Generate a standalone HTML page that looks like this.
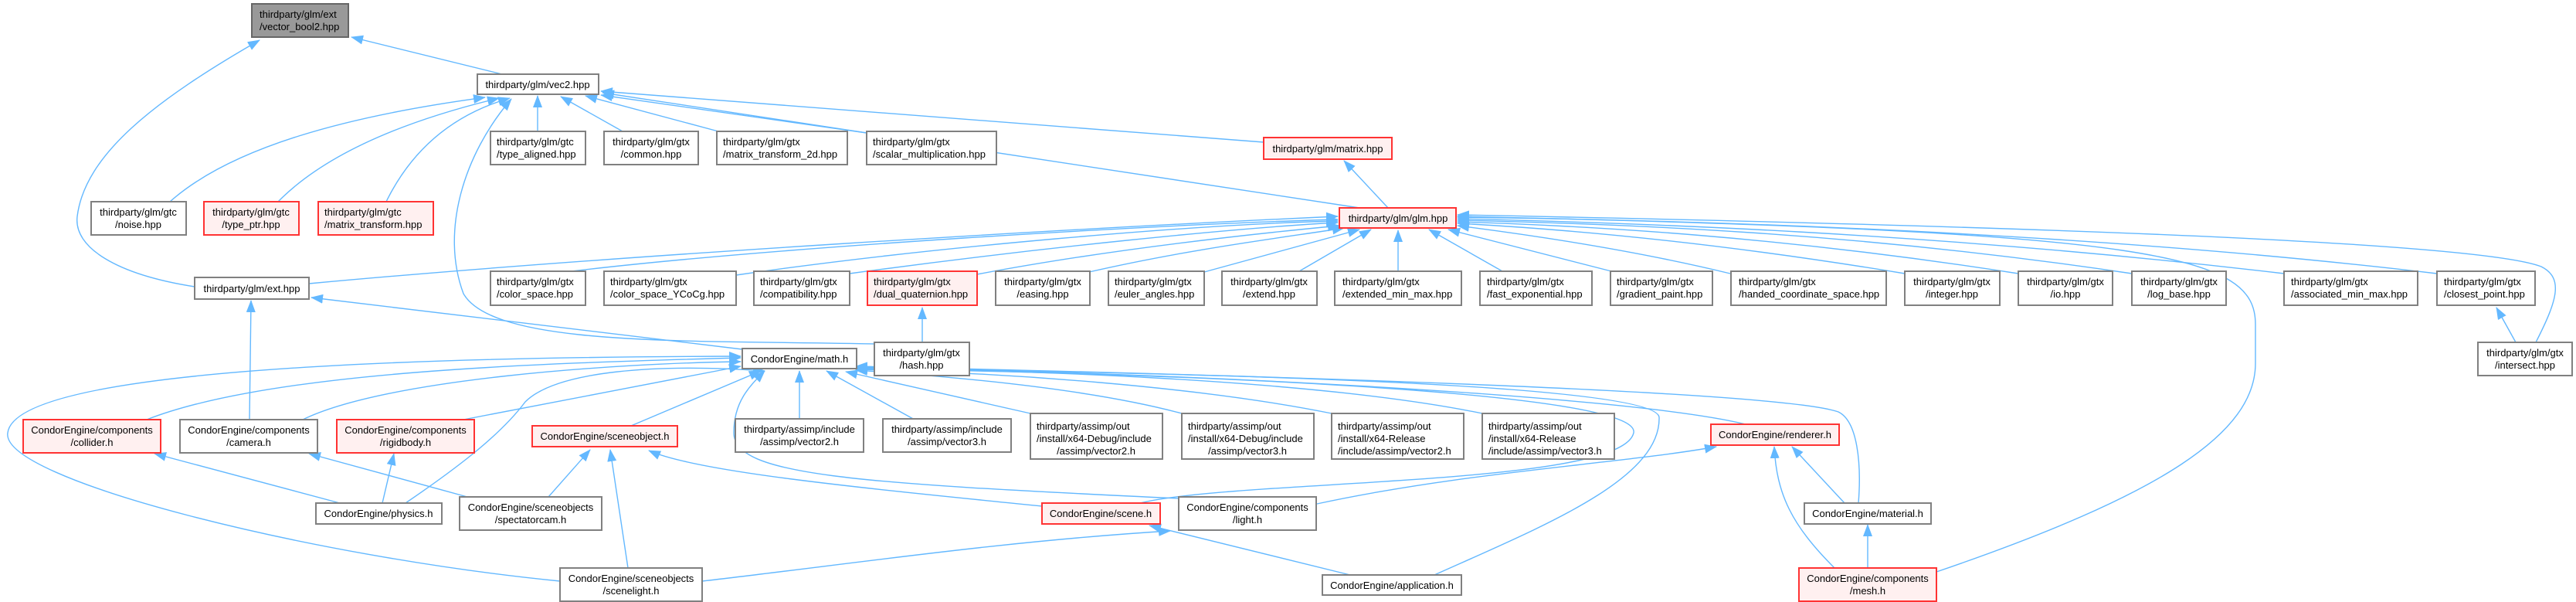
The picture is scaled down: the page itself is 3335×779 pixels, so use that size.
<!DOCTYPE html>
<html><head><meta charset="utf-8"><style>
html,body{margin:0;padding:0;background:#fff;}
svg{display:block;}
text{font-family:"Liberation Sans",Arial,sans-serif;font-size:13px;fill:#000;}
.e{fill:none;stroke:#63b8ff;stroke-width:1.4;}
.n{fill:#fff;stroke:#808080;stroke-width:2;}
.r{fill:#fff0f0;stroke:#ff3333;stroke-width:2;}
.g{fill:#999;stroke:#666;stroke-width:2;}
</style></head><body>
<svg width="3335" height="779" viewBox="0 0 3335 779" xmlns="http://www.w3.org/2000/svg">
<defs>
<marker id="a" markerUnits="userSpaceOnUse" markerWidth="16" markerHeight="12" refX="15" refY="6" orient="auto">
<path d="M0,0 L16,6 L0,12 Z" fill="#63b8ff"/>
</marker>
</defs>
<g class="e" marker-end="url(#a)">
<path d="M650,96 L455,48"/>
<path d="M252,371 C150,355 95,320 100,280 C110,200 200,130 336,52"/>
<path d="M220,261 C300,190 450,150 628,126"/>
<path d="M360,261 C430,190 550,150 646,127"/>
<path d="M500,261 C530,200 580,150 660,127"/>
<path d="M696,170 L696,124"/>
<path d="M806,170 L726,125"/>
<path d="M930,170 L758,124"/>
<path d="M1122,172 L778,123"/>
<path d="M1636,184 L778,118"/>
<path d="M1760,269 L780,120"/>
<path d="M1797,269 L1740,208"/>
<path d="M1133,445 C900,440 640,450 600,380 C570,300 600,200 662,128"/>
<path d="M400,367 C800,330 1400,295 1732,280"/>
<path d="M961,452 L403,385"/>
<path d="M323,543 L325,389"/>
<path d="M740,351 C1000,320 1500,290 1732,284"/>
<path d="M953,356 C1200,320 1550,290 1732,286"/>
<path d="M1100,354 C1350,320 1600,295 1732,288"/>
<path d="M1265,355 C1450,320 1650,300 1734,292"/>
<path d="M1410,352 C1550,320 1680,305 1740,295"/>
<path d="M1559,352 L1760,297"/>
<path d="M1682,351 L1775,297"/>
<path d="M1810,351 L1810,298"/>
<path d="M1945,351 L1850,297"/>
<path d="M2090,352 L1875,297"/>
<path d="M2240,354 C2100,320 1950,300 1887,292"/>
<path d="M2466,354 C2200,310 2000,295 1887,289"/>
<path d="M2613,354 C2300,305 2050,292 1887,287"/>
<path d="M2760,354 C2400,300 2100,290 1887,285"/>
<path d="M2957,354 C2500,300 2100,288 1887,283"/>
<path d="M3155,354 C2700,300 2200,285 1887,281"/>
<path d="M3257,443 L3232,398"/>
<path d="M3283,443 C3310,390 3320,360 3290,345 C3200,310 2500,290 1887,278"/>
<path d="M2507,740 C2800,640 2920,560 2920,470 L2920,420 C2920,330 2800,300 1887,280"/>
<path d="M1194,443 L1194,398"/>
<path d="M190,543 C350,480 700,470 959,463"/>
<path d="M392,543 C500,490 800,470 959,468"/>
<path d="M600,543 L959,474"/>
<path d="M817,551 L985,480"/>
<path d="M725,752 C400,720 0,620 10,560 C20,480 500,462 959,461"/>
<path d="M525,651 C600,600 650,560 680,520 C720,480 850,470 990,480"/>
<path d="M1035,543 L1035,480"/>
<path d="M1184,543 L1070,480"/>
<path d="M1334,535 L1095,481"/>
<path d="M1530,535 C1400,500 1200,485 1108,479"/>
<path d="M1724,535 C1550,500 1300,482 1108,478"/>
<path d="M1919,535 C1700,490 1300,478 1108,477"/>
<path d="M2260,549 C2100,510 1500,482 1108,475"/>
<path d="M2406,651 C2410,600 2405,545 2380,533 C2300,505 1600,485 1108,474"/>
<path d="M1857,744 C2000,680 2150,620 2148,540 C2145,495 1500,482 1108,476"/>
<path d="M1476,651 C1600,620 2100,630 2115,560 C2125,510 1600,485 1108,477"/>
<path d="M1526,645 C1100,625 950,615 950,560 C950,520 970,500 990,480"/>
<path d="M1349,655 C1100,630 900,610 840,583"/>
<path d="M710,643 L764,582"/>
<path d="M813,735 L790,582"/>
<path d="M440,651 L200,587"/>
<path d="M495,651 L510,587"/>
<path d="M605,643 L400,587"/>
<path d="M1748,744 L1488,680"/>
<path d="M909,752 C1100,730 1300,700 1515,687"/>
<path d="M1705,652 C1900,610 2100,600 2222,578"/>
<path d="M2388,651 L2320,578"/>
<path d="M2375,735 C2320,680 2300,640 2297,578"/>
<path d="M2418,735 L2418,679"/>
</g>
<g>
<rect class="g" x="326" y="5" width="125" height="43"/><text x="336" y="23">thirdparty/glm/ext</text><text x="336" y="39">/vector_bool2.hpp</text>
<rect class="n" x="618" y="96" width="157" height="26"/><text x="696" y="114" text-anchor="middle">thirdparty/glm/vec2.hpp</text>
<rect class="n" x="635" y="170" width="123" height="43"/><text x="643" y="188">thirdparty/glm/gtc</text><text x="643" y="204">/type_aligned.hpp</text>
<rect class="n" x="782" y="170" width="122" height="43"/><text x="843" y="188" text-anchor="middle">thirdparty/glm/gtx</text><text x="843" y="204" text-anchor="middle">/common.hpp</text>
<rect class="n" x="928" y="170" width="169" height="43"/><text x="936" y="188">thirdparty/glm/gtx</text><text x="936" y="204">/matrix_transform_2d.hpp</text>
<rect class="n" x="1122" y="170" width="168" height="43"/><text x="1130" y="188">thirdparty/glm/gtx</text><text x="1130" y="204">/scalar_multiplication.hpp</text>
<rect class="r" x="1636" y="178" width="166" height="28"/><text x="1719" y="197" text-anchor="middle">thirdparty/glm/matrix.hpp</text>
<rect class="r" x="1734" y="269" width="151" height="26"/><text x="1810" y="287" text-anchor="middle">thirdparty/glm/glm.hpp</text>
<rect class="n" x="118" y="261" width="123" height="43"/><text x="179" y="279" text-anchor="middle">thirdparty/glm/gtc</text><text x="179" y="295" text-anchor="middle">/noise.hpp</text>
<rect class="r" x="264" y="261" width="123" height="43"/><text x="325" y="279" text-anchor="middle">thirdparty/glm/gtc</text><text x="325" y="295" text-anchor="middle">/type_ptr.hpp</text>
<rect class="r" x="412" y="261" width="149" height="43"/><text x="420" y="279">thirdparty/glm/gtc</text><text x="420" y="295">/matrix_transform.hpp</text>
<rect class="n" x="252" y="359" width="148" height="28"/><text x="326" y="378" text-anchor="middle">thirdparty/glm/ext.hpp</text>
<rect class="n" x="635" y="351" width="123" height="44"/><text x="643" y="369">thirdparty/glm/gtx</text><text x="643" y="385">/color_space.hpp</text>
<rect class="n" x="782" y="351" width="171" height="44"/><text x="790" y="369">thirdparty/glm/gtx</text><text x="790" y="385">/color_space_YCoCg.hpp</text>
<rect class="n" x="976" y="351" width="124" height="44"/><text x="984" y="369">thirdparty/glm/gtx</text><text x="984" y="385">/compatibility.hpp</text>
<rect class="r" x="1123" y="351" width="142" height="44"/><text x="1131" y="369">thirdparty/glm/gtx</text><text x="1131" y="385">/dual_quaternion.hpp</text>
<rect class="n" x="1289" y="351" width="122" height="44"/><text x="1350" y="369" text-anchor="middle">thirdparty/glm/gtx</text><text x="1350" y="385" text-anchor="middle">/easing.hpp</text>
<rect class="n" x="1435" y="351" width="124" height="44"/><text x="1443" y="369">thirdparty/glm/gtx</text><text x="1443" y="385">/euler_angles.hpp</text>
<rect class="n" x="1582" y="351" width="123" height="44"/><text x="1643" y="369" text-anchor="middle">thirdparty/glm/gtx</text><text x="1643" y="385" text-anchor="middle">/extend.hpp</text>
<rect class="n" x="1728" y="351" width="164" height="44"/><text x="1738" y="369">thirdparty/glm/gtx</text><text x="1738" y="385">/extended_min_max.hpp</text>
<rect class="n" x="1916" y="351" width="145" height="44"/><text x="1925" y="369">thirdparty/glm/gtx</text><text x="1925" y="385">/fast_exponential.hpp</text>
<rect class="n" x="2085" y="351" width="132" height="44"/><text x="2093" y="369">thirdparty/glm/gtx</text><text x="2093" y="385">/gradient_paint.hpp</text>
<rect class="n" x="2241" y="351" width="201" height="44"/><text x="2251" y="369">thirdparty/glm/gtx</text><text x="2251" y="385">/handed_coordinate_space.hpp</text>
<rect class="n" x="2466" y="351" width="123" height="44"/><text x="2527" y="369" text-anchor="middle">thirdparty/glm/gtx</text><text x="2527" y="385" text-anchor="middle">/integer.hpp</text>
<rect class="n" x="2613" y="351" width="122" height="44"/><text x="2674" y="369" text-anchor="middle">thirdparty/glm/gtx</text><text x="2674" y="385" text-anchor="middle">/io.hpp</text>
<rect class="n" x="2760" y="351" width="122" height="44"/><text x="2821" y="369" text-anchor="middle">thirdparty/glm/gtx</text><text x="2821" y="385" text-anchor="middle">/log_base.hpp</text>
<rect class="n" x="2957" y="351" width="173" height="44"/><text x="2966" y="369">thirdparty/glm/gtx</text><text x="2966" y="385">/associated_min_max.hpp</text>
<rect class="n" x="3155" y="351" width="127" height="44"/><text x="3164" y="369">thirdparty/glm/gtx</text><text x="3164" y="385">/closest_point.hpp</text>
<rect class="n" x="3208" y="443" width="122" height="43"/><text x="3269" y="461" text-anchor="middle">thirdparty/glm/gtx</text><text x="3269" y="477" text-anchor="middle">/intersect.hpp</text>
<rect class="n" x="1132" y="443" width="123" height="43"/><text x="1193" y="461" text-anchor="middle">thirdparty/glm/gtx</text><text x="1193" y="477" text-anchor="middle">/hash.hpp</text>
<rect class="n" x="961" y="451" width="148" height="26"/><text x="1035" y="469" text-anchor="middle">CondorEngine/math.h</text>
<rect class="r" x="30" y="543" width="178" height="43"/><text x="119" y="561" text-anchor="middle">CondorEngine/components</text><text x="119" y="577" text-anchor="middle">/collider.h</text>
<rect class="n" x="233" y="543" width="178" height="43"/><text x="322" y="561" text-anchor="middle">CondorEngine/components</text><text x="322" y="577" text-anchor="middle">/camera.h</text>
<rect class="r" x="436" y="543" width="178" height="43"/><text x="525" y="561" text-anchor="middle">CondorEngine/components</text><text x="525" y="577" text-anchor="middle">/rigidbody.h</text>
<rect class="r" x="689" y="551" width="188" height="27"/><text x="783" y="569" text-anchor="middle">CondorEngine/sceneobject.h</text>
<rect class="n" x="952" y="542" width="166" height="43"/><text x="1035" y="560" text-anchor="middle">thirdparty/assimp/include</text><text x="1035" y="576" text-anchor="middle">/assimp/vector2.h</text>
<rect class="n" x="1143" y="542" width="166" height="43"/><text x="1226" y="560" text-anchor="middle">thirdparty/assimp/include</text><text x="1226" y="576" text-anchor="middle">/assimp/vector3.h</text>
<rect class="n" x="1334" y="535" width="171" height="59"/><text x="1342" y="556">thirdparty/assimp/out</text><text x="1342" y="572">/install/x64-Debug/include</text><text x="1419" y="588" text-anchor="middle">/assimp/vector2.h</text>
<rect class="n" x="1530" y="535" width="171" height="59"/><text x="1538" y="556">thirdparty/assimp/out</text><text x="1538" y="572">/install/x64-Debug/include</text><text x="1615" y="588" text-anchor="middle">/assimp/vector3.h</text>
<rect class="n" x="1724" y="535" width="171" height="59"/><text x="1732" y="556">thirdparty/assimp/out</text><text x="1732" y="572">/install/x64-Release</text><text x="1732" y="588">/include/assimp/vector2.h</text>
<rect class="n" x="1919" y="535" width="171" height="59"/><text x="1927" y="556">thirdparty/assimp/out</text><text x="1927" y="572">/install/x64-Release</text><text x="1927" y="588">/include/assimp/vector3.h</text>
<rect class="r" x="2215" y="549" width="166" height="27"/><text x="2298" y="567" text-anchor="middle">CondorEngine/renderer.h</text>
<rect class="n" x="409" y="651" width="163" height="27"/><text x="490" y="669" text-anchor="middle">CondorEngine/physics.h</text>
<rect class="n" x="595" y="643" width="184" height="43"/><text x="687" y="661" text-anchor="middle">CondorEngine/sceneobjects</text><text x="687" y="677" text-anchor="middle">/spectatorcam.h</text>
<rect class="r" x="1349" y="651" width="153" height="27"/><text x="1425" y="669" text-anchor="middle">CondorEngine/scene.h</text>
<rect class="n" x="1526" y="643" width="178" height="43"/><text x="1615" y="661" text-anchor="middle">CondorEngine/components</text><text x="1615" y="677" text-anchor="middle">/light.h</text>
<rect class="n" x="2336" y="651" width="164" height="27"/><text x="2418" y="669" text-anchor="middle">CondorEngine/material.h</text>
<rect class="n" x="725" y="735" width="184" height="43"/><text x="817" y="753" text-anchor="middle">CondorEngine/sceneobjects</text><text x="817" y="769" text-anchor="middle">/scenelight.h</text>
<rect class="n" x="1712" y="744" width="180" height="26"/><text x="1802" y="762" text-anchor="middle">CondorEngine/application.h</text>
<rect class="r" x="2329" y="735" width="178" height="43"/><text x="2418" y="753" text-anchor="middle">CondorEngine/components</text><text x="2418" y="769" text-anchor="middle">/mesh.h</text>
</g>
</svg>
</body></html>
